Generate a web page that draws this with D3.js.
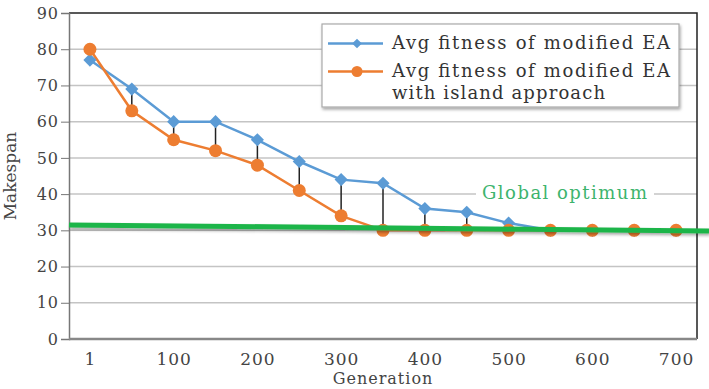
<!DOCTYPE html>
<html>
<head>
<meta charset="utf-8">
<script src="https://cdn.jsdelivr.net/npm/d3@7"></script>
<style>
  body { margin: 0; background: #fff; }
  svg { display: block; font-family: "DejaVu Serif", serif; }
</style>
</head>
<body>
<svg id="chart"></svg>
<script>
// data
const generations = ["1", "50", "100", "150", "200", "250", "300", "350", "400", "450", "500", "550", "600", "650", "700"];
const modifiedEA = [77, 69, 60, 60, 55, 49, 44, 43, 36, 35, 32, 30, 30, 30, 30];
const islandEA = [80, 63, 55, 52, 48, 41, 34, 30, 30, 30, 30, 30, 30, 30, 30];
const yTicks = [0, 10, 20, 30, 40, 50, 60, 70, 80, 90];
const xLabels = ["1", "100", "200", "300", "400", "500", "600", "700"];
const optimum = [31.5, 29.8]; // start / end of the green line

const W = 709, H = 389;
const M = { top: 13, right: 12, bottom: 50, left: 69 };
const textColor = "#444";

const svg = d3.select("#chart").attr("width", W).attr("height", H);

const defs = svg.append("defs");
const shadow = defs.append("filter").attr("id", "shadow")
  .attr("x", "-5%").attr("y", "-50%").attr("width", "110%").attr("height", "250%");
shadow.append("feDropShadow").attr("dx", 1).attr("dy", 2).attr("stdDeviation", 1.5)
  .attr("flood-color", "#000").attr("flood-opacity", 0.35);

const x = d3.scalePoint().domain(generations).range([M.left, W - M.right]).padding(0.5);
const y = d3.scaleLinear().domain([0, 90]).range([H - M.bottom, M.top]);

// gridlines
svg.append("g")
  .selectAll("line")
  .data(yTicks.filter(d => d > 0 && d < 90))
  .join("line")
  .attr("x1", M.left).attr("x2", W - M.right)
  .attr("y1", d => y(d)).attr("y2", d => y(d))
  .attr("stroke", "#c4c4c4").attr("stroke-width", 1.5);

// frame: top + right dark
svg.append("path")
  .attr("d", `M${M.left},${y(90)}H${W - M.right}V${y(0)}`)
  .attr("fill", "none").attr("stroke", "#222").attr("stroke-width", 1.5);

// y axis
const yAxis = svg.append("g")
  .attr("transform", `translate(${M.left},0)`)
  .call(d3.axisLeft(y).tickValues(yTicks).tickSize(8).tickPadding(2));
yAxis.select(".domain").attr("stroke", "#777").attr("stroke-width", 1.5);
yAxis.selectAll(".tick line").attr("stroke", "#777");
yAxis.selectAll("text").attr("font-family", "DejaVu Serif").attr("font-size", 16)
  .attr("letter-spacing", 1).attr("fill", textColor);

// x axis
const xAxis = svg.append("g")
  .attr("transform", `translate(0,${y(0)})`)
  .call(d3.axisBottom(x).tickSize(0).tickPadding(14)
    .tickFormat(d => xLabels.includes(d) ? d : ""));
xAxis.select(".domain").attr("d", `M${M.left},0H${W - M.right}`)
  .attr("stroke", "#888").attr("stroke-width", 2.5);
xAxis.selectAll("text").attr("font-family", "DejaVu Serif").attr("font-size", 17)
  .attr("letter-spacing", 1).attr("fill", textColor);

// axis titles
svg.append("text")
  .attr("transform", `translate(16,${(y(0) + y(90)) / 2}) rotate(-90)`)
  .attr("text-anchor", "middle")
  .attr("font-size", 17).attr("fill", textColor)
  .text("Makespan");
svg.append("text")
  .attr("x", (M.left + W - M.right) / 2).attr("y", 384)
  .attr("text-anchor", "middle")
  .attr("font-size", 16).attr("letter-spacing", 1).attr("fill", textColor)
  .text("Generation");

// high-low drop lines
svg.append("g")
  .selectAll("line")
  .data(generations)
  .join("line")
  .attr("x1", d => x(d)).attr("x2", d => x(d))
  .attr("y1", (d, i) => y(modifiedEA[i])).attr("y2", (d, i) => y(islandEA[i]))
  .attr("stroke", "#222").attr("stroke-width", 1.5);

const line = d3.line().x(d => x(d[0])).y(d => y(d[1]));
const blueColor = "#5b9bd5", orangeColor = "#ed7d31";

svg.append("path")
  .datum(generations.map((g, i) => [g, modifiedEA[i]]))
  .attr("d", line).attr("fill", "none")
  .attr("stroke", blueColor).attr("stroke-width", 2.5);
svg.append("path")
  .datum(generations.map((g, i) => [g, islandEA[i]]))
  .attr("d", line).attr("fill", "none")
  .attr("stroke", orangeColor).attr("stroke-width", 2.5);

svg.append("g")
  .selectAll("path")
  .data(generations)
  .join("path")
  .attr("transform", (d, i) => `translate(${x(d)},${y(modifiedEA[i])})`)
  .attr("d", d3.symbol(d3.symbolDiamond2, 110))
  .attr("fill", blueColor);
svg.append("g")
  .selectAll("circle")
  .data(generations)
  .join("circle")
  .attr("cx", d => x(d)).attr("cy", (d, i) => y(islandEA[i]))
  .attr("r", 6.5).attr("fill", orangeColor);

// global optimum line
svg.append("line")
  .attr("x1", M.left).attr("x2", W)
  .attr("y1", y(optimum[0])).attr("y2", y(optimum[1]))
  .attr("stroke", "#1fb54a").attr("stroke-width", 5)
  .attr("filter", "url(#shadow)");

const optLabel = svg.append("g");
optLabel.append("rect")
  .attr("x", 476).attr("y", y(40) - 10).attr("width", 178).attr("height", 18)
  .attr("fill", "#fff");
optLabel.append("text")
  .attr("x", 482).attr("y", y(40) + 5)
  .attr("font-size", 18).attr("fill", "#3db46d")
  .attr("textLength", 165).attr("lengthAdjust", "spacing")
  .text("Global optimum");

// legend
const lg = svg.append("g").attr("transform", "translate(322,24)");
lg.append("rect")
  .attr("width", 357).attr("height", 83)
  .attr("fill", "#fff").attr("stroke", "#aaa").attr("stroke-width", 1.2)
  .attr("filter", "url(#shadow)");
lg.append("line").attr("x1", 6).attr("x2", 61).attr("y1", 19.5).attr("y2", 19.5)
  .attr("stroke", blueColor).attr("stroke-width", 2.5);
lg.append("path").attr("transform", "translate(35,19.5)")
  .attr("d", d3.symbol(d3.symbolDiamond2, 60)).attr("fill", blueColor);
lg.append("line").attr("x1", 6).attr("x2", 61).attr("y1", 47.5).attr("y2", 47.5)
  .attr("stroke", orangeColor).attr("stroke-width", 2.5);
lg.append("circle").attr("cx", 35).attr("cy", 47.5).attr("r", 5.5).attr("fill", orangeColor);

const legendText = [
  ["Avg fitness of modified EA", 25, 278],
  ["Avg fitness of modified EA", 53, 278],
  ["with island approach", 75, 213]
];
lg.selectAll("text.lbl")
  .data(legendText)
  .join("text")
  .attr("class", "lbl")
  .attr("x", 70).attr("y", d => d[1])
  .attr("font-size", 18).attr("fill", "#333")
  .attr("textLength", d => d[2]).attr("lengthAdjust", "spacing")
  .text(d => d[0]);
</script>
</body>
</html>
